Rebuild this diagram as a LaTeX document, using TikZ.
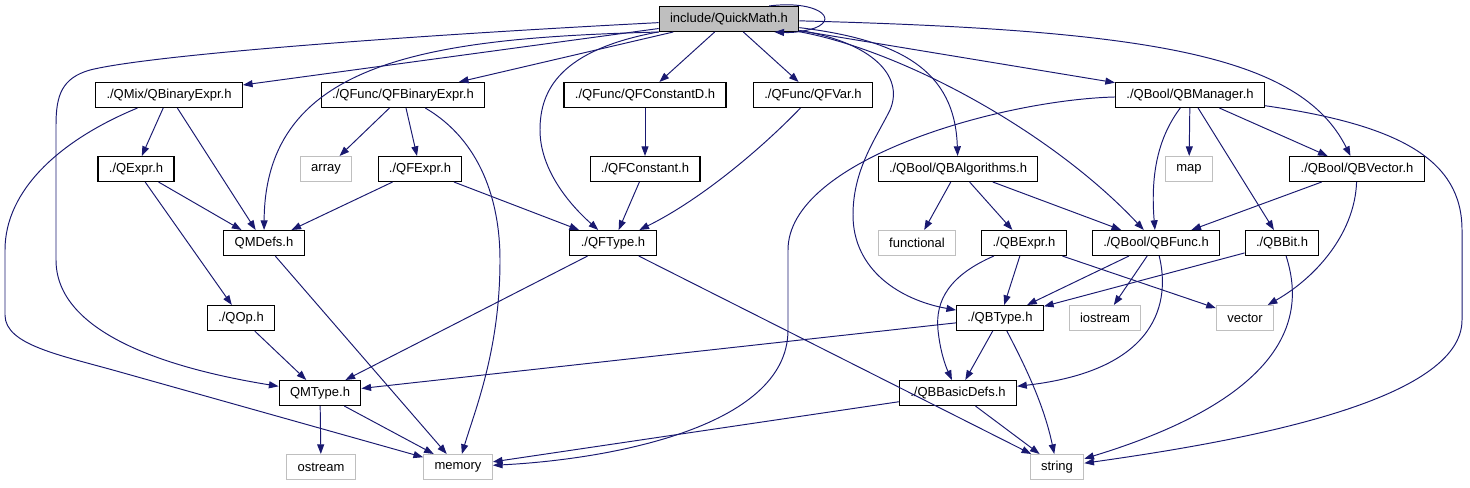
\documentclass[tikz,border=0pt]{standalone}
\usepackage{fontspec}
\setmainfont{Liberation Sans}
\usetikzlibrary{arrows.meta}
\definecolor{incblue}{RGB}{25,25,112}
\definecolor{boxgray}{RGB}{191,191,191}

\begin{document}
\begin{tikzpicture}[x=0.02cm, y=-0.02cm,
    hdr/.style={draw=black, fill=white, line width=0.6pt, minimum height=0.5cm,
        inner xsep=6.2pt, inner ysep=0pt, font=\fontsize{7.4}{9}\selectfont},
    sys/.style={hdr, draw=boxgray},
    inc/.style={incblue, line width=0.55pt, -{Triangle[length=5.5pt, width=4pt]}}]
    \useasboundingbox (0,0) rectangle (1470,487);
    % The header itself
    \node[hdr, fill=boxgray] (qm) at (729,19) {include/QuickMath.h};
    % First level
    \node[hdr] (qmix) at (169,95) {./QMix/QBinaryExpr.h};
    \node[hdr] (qfbin) at (403,95) {./QFunc/QFBinaryExpr.h};
    \node[hdr] (qfcd) at (645,95) {./QFunc/QFConstantD.h};
    \node[hdr] (qfvar) at (813,95) {./QFunc/QFVar.h};
    \node[hdr] (qbman) at (1190,95) {./QBool/QBManager.h};
    % Second level
    \node[hdr] (qexpr) at (136,169) {./QExpr.h};
    \node[sys] (array) at (326,169) {array};
    \node[hdr] (qfexpr) at (420,169) {./QFExpr.h};
    \node[hdr] (qfconst) at (645,169) {./QFConstant.h};
    \node[hdr] (qbalgo) at (958,169) {./QBool/QBAlgorithms.h};
    \node[sys] (map) at (1189,169) {map};
    \node[hdr] (qbvec) at (1357,169) {./QBool/QBVector.h};
    % Third level
    \node[hdr] (qmdefs) at (264,243) {QMDefs.h};
    \node[hdr] (qftype) at (613,243) {./QFType.h};
    \node[sys] (functional) at (917,243) {functional};
    \node[hdr] (qbexpr) at (1024,243) {./QBExpr.h};
    \node[hdr] (qbfunc) at (1156,243) {./QBool/QBFunc.h};
    \node[hdr] (qbbit) at (1282,243) {./QBBit.h};
    % Fourth level
    \node[hdr] (qop) at (241,318) {./QOp.h};
    \node[hdr] (qbtype) at (1000,318) {./QBType.h};
    \node[sys] (iostream) at (1105,318) {iostream};
    \node[sys] (vector) at (1245,318) {vector};
    % Fifth level
    \node[hdr] (qmtype) at (320,393) {QMType.h};
    \node[hdr] (qbbasic) at (958,393) {./QBBasicDefs.h};
    % Standard headers at the bottom
    \node[sys] (ostream) at (321,467) {ostream};
    \node[sys] (memory) at (458,467) {memory};
    \node[sys] (string) at (1057,467) {string};

    % Includes of QuickMath.h
    \draw[inc] (qm) -- (qmix);
    \draw[inc] (qm) -- (qfbin);
    \draw[inc] (qm) -- (qfcd);
    \draw[inc] (qm) -- (qfvar);
    \draw[inc] (qm) -- (qbman);
    \draw[inc] (qm.south west) .. controls (430,38) and (265,60) .. (qmdefs);
    \draw[inc] (qm) .. controls (560,50) and (540,90) .. (540,130)
        .. controls (540,170) and (570,205) .. (qftype);
    \draw[inc] (qm) .. controls (400,36) and (150,55) .. (90,70)
        .. controls (62,78) and (56,95) .. (56,125) -- (56,260)
        .. controls (56,340) and (190,372) .. (qmtype);
    \draw[inc] (qm) .. controls (900,40) and (955,70) .. (qbalgo);
    \draw[inc] (qm) .. controls (900,50) and (1050,130) .. (qbfunc);
    \draw[inc] (qm) .. controls (1150,30) and (1300,55) .. (qbvec);
    \draw[inc] (qm) .. controls (870,42) and (905,75) .. (890,110)
        .. controls (875,140) and (853,170) .. (853,215)
        .. controls (853,270) and (900,300) .. (qbtype);
    \draw[inc] (qm.18) .. controls (815,0) and (840,18) .. (815,28)
        .. controls (805,31) and (795,33) .. (qm.-16);

    % QMix and QFunc side
    \draw[inc] (qmix) -- (qexpr);
    \draw[inc] (qmix) -- (qmdefs);
    \draw[inc] (qmix) .. controls (60,140) and (5,190) .. (5,250) -- (5,315)
        .. controls (5,345) and (60,355) .. (120,372) -- (memory);
    \draw[inc] (qfbin) -- (array);
    \draw[inc] (qfbin) -- (qfexpr);
    \draw[inc] (qfbin) .. controls (480,140) and (500,200) .. (500,260)
        .. controls (500,350) and (475,410) .. (memory);
    \draw[inc] (qfcd) -- (qfconst);
    \draw[inc] (qfconst) -- (qftype);
    \draw[inc] (qfvar) .. controls (760,150) and (700,200) .. (qftype);
    \draw[inc] (qexpr) -- (qmdefs);
    \draw[inc] (qexpr) -- (qop);
    \draw[inc] (qfexpr) -- (qmdefs);
    \draw[inc] (qfexpr) -- (qftype);
    \draw[inc] (qmdefs) -- (memory);
    \draw[inc] (qftype) -- (qmtype);
    \draw[inc] (qftype) -- (string);
    \draw[inc] (qop) -- (qmtype);
    \draw[inc] (qmtype) -- (ostream);
    \draw[inc] (qmtype) -- (memory);

    % QBool side
    \draw[inc] (qbman) -- (map);
    \draw[inc] (qbman) -- (qbbit);
    \draw[inc] (qbman) -- (qbvec);
    \draw[inc] (qbman) .. controls (1160,135) and (1150,170) .. (qbfunc);
    \draw[inc] (qbman) .. controls (1000,100) and (788,160) .. (788,250) -- (788,330)
        .. controls (788,430) and (600,460) .. (memory);
    \draw[inc] (qbman) .. controls (1400,125) and (1462,160) .. (1462,230) -- (1462,320)
        .. controls (1462,400) and (1250,440) .. (string);
    \draw[inc] (qbvec) -- (qbfunc);
    \draw[inc] (qbvec) .. controls (1355,230) and (1320,275) .. (vector);
    \draw[inc] (qbalgo) -- (functional);
    \draw[inc] (qbalgo) -- (qbexpr);
    \draw[inc] (qbalgo) -- (qbfunc);
    \draw[inc] (qbexpr) -- (qbtype);
    \draw[inc] (qbexpr) -- (vector);
    \draw[inc] (qbexpr) .. controls (950,275) and (935,300) .. (938,330)
        .. controls (940,350) and (945,365) .. (qbbasic);
    \draw[inc] (qbfunc) -- (qbtype);
    \draw[inc] (qbfunc) -- (iostream);
    \draw[inc] (qbfunc) .. controls (1170,300) and (1160,370) .. (qbbasic);
    \draw[inc] (qbbit) -- (qbtype);
    \draw[inc] (qbbit) .. controls (1300,300) and (1310,390) .. (string);
    \draw[inc] (qbtype) -- (qmtype);
    \draw[inc] (qbtype) -- (qbbasic);
    \draw[inc] (qbtype) .. controls (1030,375) and (1045,410) .. (string);
    \draw[inc] (qbbasic) -- (memory);
    \draw[inc] (qbbasic) -- (string);
\end{tikzpicture}
\end{document}
